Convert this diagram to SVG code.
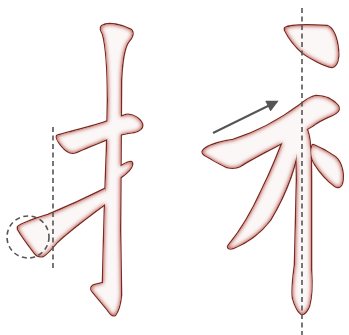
<svg xmlns="http://www.w3.org/2000/svg" width="349" height="335" viewBox="0 0 349 335">
<style>
.outline{fill:none;stroke:#7a2a20;stroke-width:2.6;stroke-linejoin:round}
.body{fill:#fbf7f6;stroke:none}
.guide{fill:none;stroke:#555;stroke-width:1.6;stroke-dasharray:5 3.5}
.arrow{fill:none;stroke:#555;stroke-width:2}
</style>
<defs>
<filter id="glow" x="-10%" y="-10%" width="120%" height="120%">
<feGaussianBlur in="SourceAlpha" stdDeviation="2" result="b"/>
<feComposite in="SourceAlpha" in2="b" operator="out" result="edge"/>
<feFlood flood-color="#c8513f"/>
<feComposite in2="edge" operator="in" result="g"/>
<feMerge><feMergeNode in="SourceGraphic"/><feMergeNode in="g"/><feMergeNode in="g"/></feMerge>
</filter>
<marker id="head" viewBox="0 0 10 10" refX="2" refY="5" markerWidth="7" markerHeight="6" orient="auto" markerUnits="strokeWidth">
<path d="M0,0 L10,5 L0,10 Z" fill="#555"/>
</marker>
<g id="leftStrokes">
<path d="M102,26 C108,22 122,25 131,30 C134,33 132,38 128,42 C124,48 122,60 121,80 L120,230 L121,295 C120,305 118,311 115,315 C112,316 110,313 108,310 L93,292 C90,289 91,286 95,285 L103,283 C104,240 105,200 107,150 L108,100 C108,70 106,45 103,34 C101,30 100,28 102,26 Z"/>
<path d="M57,136 C62,134 80,130 103,123 L126,115 C133,114 140,119 142,124 C143,128 139,131 134,132 C125,133 118,135 110,138 C100,142 85,148 76,152 C71,154 66,151 62,146 C59,142 56,139 57,136 Z"/>
<path d="M117,168 C122,166 127,162 131,162 C133,163 132,167 129,170 C126,173 123,176 119,178 Z"/>
<path d="M18,227 C21,224 32,220 48,215 C65,208 85,199 105,189 L109,201 C90,215 72,228 57,242 C52,248 47,254 43,256 C39,257 36,255 34,252 C28,244 22,236 18,229 Z"/>
</g>
<g id="rightStrokes">
<path d="M285,28 C290,25 310,25 327,26 C333,28 337,38 338,50 C339,58 337,66 332,67 C325,66 310,58 303,53 C296,47 289,38 285,30 Z"/>
<path d="M203,151 C206,146 220,142 233,140 C255,133 280,120 300,105 C306,100 310,97 316,96 C325,96 333,100 338,106 C340,110 337,113 332,115 C325,118 318,121 312,126 L300,133 C285,142 255,156 240,166 C236,168 232,168 227,167 C218,163 210,158 205,155 C203,154 202,152 203,151 Z"/>
<path d="M288,128 L300,135 C297,165 285,195 270,220 C260,233 246,243 233,248 C229,249 227,248 229,245 C240,232 252,212 262,190 C272,170 280,150 288,128 Z"/>
<path d="M313,145 C318,147 328,152 335,157 C342,163 344,175 342,183 C341,187 338,188 335,186 C327,180 320,172 315,164 C311,158 310,150 313,145 Z"/>
<path d="M296,130 L306,128 C310,135 311,150 311,180 L311,270 C312,285 312,295 309,306 C307,311 304,314 302,314 C299,313 295,306 293,298 C292,290 293,280 295,265 L297,180 C297,160 296,145 296,130 Z"/>
</g>
</defs>
<rect width="349" height="335" fill="#ffffff"/>
<g id="char-left">
<use href="#leftStrokes" class="outline"/>
<use href="#leftStrokes" class="body" filter="url(#glow)"/>
</g>
<g id="char-right">
<use href="#rightStrokes" class="outline"/>
<use href="#rightStrokes" class="body" filter="url(#glow)"/>
</g>
<g id="connectors">
<line class="guide" x1="53" y1="127" x2="53" y2="268"/>
<circle class="guide" cx="28" cy="237" r="21"/>
<line class="guide" x1="302" y1="8" x2="302" y2="335"/>
<line class="arrow" x1="213" y1="133" x2="270" y2="105" marker-end="url(#head)"/>
</g>
</svg>
